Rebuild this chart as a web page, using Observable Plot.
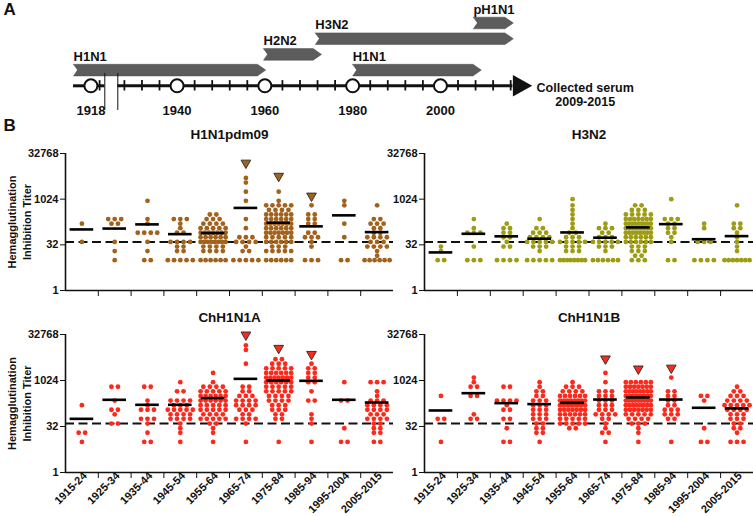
<!DOCTYPE html>
<html><head><meta charset="utf-8">
<script src="https://cdn.jsdelivr.net/npm/d3@7"></script>
<script src="https://cdn.jsdelivr.net/npm/@observablehq/plot@0.6"></script>
<style>
body{margin:0;background:#fff;}
#chart{position:relative;width:753px;height:516px;overflow:hidden;background:#fff;}
</style></head><body><div id="chart"></div>
<script>
const FONT = '"Liberation Sans", Arial, Helvetica, sans-serif';

// ---------- Panel A: timeline ----------
const lineages      = ["H1N1", "H2N2", "H3N2", "H1N1", "pH1N1"];
const lineageStart  = [1914, 1959.7, 1971.5, 1980, 2007.5];
const lineageEnd    = [1960.2, 1972.9, 2016.6, 2009.3, 2016.6];
const lineageTrack  = [1, 2, 3, 1, 4];
const decadeYears   = [1918, 1940, 1960, 1980, 2000];
const tickYears     = [1920, 1928, 1932, 1936, 1944, 1948, 1952, 1956, 1964, 1968, 1972, 1976,
                       1984, 1988, 1992, 1996, 2004, 2008, 2012, 2016];
const breakYears    = [1921.2, 1926.5];
const timelineStart = 1914, timelineEnd = 2016.5, timelineTip = 2020.9;
const serumLabel    = "Collected serum\n2009-2015";

// ---------- Panel B: HI titers ----------
const categories = ["1915-24", "1925-34", "1935-44", "1945-54", "1955-64", "1965-74", "1975-84", "1985-94", "1995-2004", "2005-2015"];
const yTicks = [1, 32, 1024, 32768];
const cutoff = 40;

// each category: [titer, number of sera]
const h1n1pdm09Points = [
  [[160,1],[40,1]],
  [[226,3],[160,2],[40,1],[20,1],[10,1]],
  [[905,1],[226,1],[160,1],[80,4],[40,1],[20,1],[10,2]],
  [[226,3],[160,1],[113,1],[80,2],[40,4],[28,2],[20,2],[10,5]],
  [[320,2],[226,3],[160,4],[113,5],[80,7],[57,6],[40,8],[28,4],[20,4],[10,6]],
  [[5120,1],[3620,1],[1810,1],[905,1],[226,1],[113,1],[57,3],[40,4],[28,1],[20,2],[10,5]],
  [[1810,1],[905,1],[640,5],[453,4],[320,6],[226,6],[160,7],[113,6],[80,7],[57,5],[40,6],[28,3],[20,5],[10,6]],
  [[640,1],[320,2],[226,2],[160,2],[80,2],[57,3],[40,1],[28,1],[10,3]],
  [[905,1],[640,1],[160,1],[57,1],[10,2]],
  [[640,1],[226,2],[160,3],[113,2],[80,2],[57,4],[40,3],[28,4],[20,1],[14,1],[10,6]]
];
const h1n1pdm09Means = [103, 110, 151, 72, 78, 527, 172, 130, 300, 84];
const h1n1pdm09Flags = [null, null, null, null, null, 16000, 5900, 1310, null, null];

const h3n2Points = [
  [[28,1],[20,1],[10,2]],
  [[226,1],[113,1],[80,3],[28,1],[10,3]],
  [[160,1],[113,2],[80,2],[57,2],[40,1],[28,2],[10,4]],
  [[226,1],[113,2],[80,3],[57,4],[40,5],[28,3],[20,1],[10,5]],
  [[1024,1],[640,1],[453,1],[320,1],[226,1],[160,1],[113,1],[80,2],[57,3],[40,5],[28,3],[20,3],[10,8]],
  [[160,1],[113,3],[80,2],[57,3],[40,5],[28,3],[20,1],[10,6]],
  [[640,2],[453,3],[320,5],[226,7],[160,9],[113,9],[80,8],[57,6],[40,6],[28,3],[20,3],[14,2],[10,3]],
  [[1024,1],[226,3],[160,2],[113,2],[80,2],[57,1],[40,1],[10,2]],
  [[160,1],[113,1],[40,3],[10,4]],
  [[640,1],[160,2],[113,2],[80,1],[57,1],[40,1],[28,1],[20,1],[10,7]]
];
const h3n2Means = [18, 74, 61, 51, 82, 55, 120, 154, 49, 62];
const h3n2Flags = [null, null, null, null, null, null, null, null, null, null];

const chH1N1APoints = [
  [[160,1],[20,2],[10,1]],
  [[640,2],[226,1],[113,2],[80,1],[40,2]],
  [[640,2],[226,1],[160,1],[113,3],[57,3],[40,1],[20,1],[10,2]],
  [[905,1],[453,2],[226,4],[160,3],[113,5],[80,4],[57,4],[40,1],[28,1],[20,1],[10,1]],
  [[1810,1],[905,1],[640,4],[453,5],[320,6],[226,6],[160,5],[113,5],[80,4],[57,5],[40,2],[28,1],[20,1],[10,1]],
  [[14480,1],[10240,1],[3620,1],[640,2],[453,2],[320,3],[226,4],[160,4],[113,3],[80,2],[57,4],[40,1],[10,1]],
  [[5120,2],[3620,3],[2560,5],[1810,6],[1280,7],[905,6],[640,5],[453,5],[320,4],[226,4],[160,3],[113,3],[80,2],[57,2],[10,1]],
  [[3620,1],[2560,2],[1810,2],[1280,2],[905,2],[453,1],[226,2],[80,1],[57,1],[40,1],[10,1]],
  [[905,1],[226,2],[28,1],[10,2]],
  [[905,3],[453,1],[320,1],[226,3],[160,4],[113,4],[80,3],[57,4],[40,2],[28,2],[20,2],[10,2]]
];
const chH1N1AMeans = [57, 239, 164, 164, 271, 1160, 1024, 1000, 239, 195];
const chH1N1AFlags = [null, null, null, null, null, 32000, 11700, 7400, null, null];

const chH1N1BPoints = [
  [[320,1],[57,2],[10,1]],
  [[1280,1],[905,1],[640,2],[320,2],[80,1],[57,2]],
  [[640,2],[226,4],[160,1],[113,2],[57,2],[28,1],[10,2]],
  [[905,1],[640,1],[453,2],[320,2],[226,3],[160,3],[113,3],[80,3],[57,3],[40,2],[28,2],[20,2],[10,1]],
  [[905,1],[640,3],[453,4],[320,6],[226,8],[160,8],[113,7],[80,6],[57,5],[40,5],[28,2]],
  [[1810,1],[905,1],[453,3],[320,3],[226,3],[160,3],[113,3],[80,4],[57,2],[40,1],[28,1],[20,2],[10,1]],
  [[905,6],[640,7],[453,8],[320,9],[226,9],[160,8],[113,7],[80,5],[57,4],[40,3],[28,1],[20,1],[10,1]],
  [[1280,1],[453,2],[320,2],[226,2],[160,2],[113,3],[80,3],[57,2],[10,1]],
  [[320,2],[226,1],[28,1],[10,2]],
  [[640,1],[453,2],[320,3],[226,4],[160,5],[113,4],[80,3],[57,3],[40,2],[28,2],[20,1],[10,3]]
];
const chH1N1BMeans = [107, 394, 186, 173, 190, 244, 284, 244, 131, 125];
const chH1N1BFlags = [null, null, null, null, null, 5260, 2470, 2640, null, null];

const panelTitles = ["H1N1pdm09", "H3N2", "ChH1N1A", "ChH1N1B"];
const panelColors = ["#a2621c", "#9e9c14", "#fb2a1c", "#fb2a1c"];
const yTitle = "Hemagglutination\nInhibition Titer";

const chart = document.getElementById("chart");

// ---------- timeline plot ----------
const H = 0.37, TIP = 1.9, NOTCH = 0.9;
const arrowPolys = lineages.flatMap((name, i) => {
  const s = lineageStart[i], e = lineageEnd[i], t = lineageTrack[i];
  return [[s, t + H], [e - TIP, t + H], [e, t], [e - TIP, t - H], [s, t - H], [s + NOTCH, t]]
    .map(([x, y]) => ({id: i, x, y}));
});
const headPoly = [[timelineEnd, 0.68], [timelineTip, 0], [timelineEnd, -0.68]].map(([x, y]) => ({x, y}));

const timeline = Plot.plot({
  width: 753, height: 140,
  marginTop: 0, marginRight: 0, marginBottom: 0, marginLeft: 0,
  style: {position: "absolute", left: "0px", top: "0px", background: "transparent", overflow: "visible",
          fontFamily: FONT, fontWeight: "bold", fontSize: "13px", color: "#111"},
  x: {type: "linear", domain: [1913, breakYears[0], breakYears[1], 2025], range: [68.7, 104.3, 117.3, 549.7], axis: null},
  y: {type: "linear", domain: [0, 4], range: [85.3, 22.5], axis: null},
  marks: [
    Plot.line(arrowPolys, {x: "x", y: "y", z: "id", fill: "#5c5c5c", stroke: "#4a4a4a", strokeWidth: 0.5, curve: "linear-closed"}),
    Plot.text(lineages, {x: (d, i) => lineageStart[i], y: (d, i) => lineageTrack[i], text: d => d,
      textAnchor: "start", lineAnchor: "bottom", dy: -9.5, fontSize: 13, fontWeight: "bold"}),
    Plot.ruleY([0], {x1: timelineStart, x2: breakYears[0], strokeWidth: 3}),
    Plot.ruleY([0], {x1: breakYears[1], x2: timelineEnd, strokeWidth: 3}),
    Plot.ruleX(tickYears, {y1: -0.33, y2: 0.33, strokeWidth: 1.8}),
    Plot.line(headPoly, {x: "x", y: "y", fill: "#111", stroke: "none", curve: "linear-closed"}),
    Plot.ruleX(breakYears, {y1: 0.78, y2: -1.57, strokeWidth: 1}),
    Plot.dot(decadeYears, {x: d => d, y: 0, r: 6.5, fill: "white", stroke: "#111", strokeWidth: 2}),
    Plot.text(decadeYears, {x: d => d, y: 0, dy: 25, text: d => String(d), fontSize: 13, fontWeight: "bold"}),
    Plot.text([serumLabel], {x: timelineTip, y: 0, dx: 53, dy: 9, textAnchor: "middle", lineHeight: 1.12, fontSize: 12.5, fontWeight: "bold"}),
    Plot.text(["A"], {frameAnchor: "top-left", dx: 3, dy: 2, lineAnchor: "top", textAnchor: "start", fontSize: 17, fontWeight: "bold"}),
    Plot.text(["B"], {frameAnchor: "top-left", dx: 3, dy: 118, lineAnchor: "top", textAnchor: "start", fontSize: 17, fontWeight: "bold"})
  ]
});
chart.appendChild(timeline);

// ---------- panel plots ----------
function panel(title, color, points, means, flags, isBottom, isRight) {
  const top = isBottom ? 300 : 110;
  const mt = isBottom ? 34 : 43;
  const mb = isBottom ? 44 : 10;
  const h = isBottom ? 216 : 190;
  const left = isRight ? 370 : 0;
  const w = isRight ? 383 : 393;
  const ml = isRight ? 54 : 65;
  const bw = (w - ml) / categories.length;
  const dots = [];
  points.forEach((groups, ci) => {
    groups.forEach(([v, n]) => {
      const sp = n > 1 ? Math.min(6.5, 25 / (n - 1)) : 0;
      for (let k = 0; k < n; k++) dots.push({ci, v, off: (k - (n - 1) / 2) * sp});
    });
  });
  const meanData = means.map((m, i) => ({i, m}));
  const flagData = flags.map((f, i) => ({i, f})).filter(d => d.f != null);
  const marks = [
    Plot.ruleY([cutoff], {strokeDasharray: "9,4.5", strokeWidth: 2, stroke: "#111"}),
    Plot.dot(dots, {x: d => d.ci + 0.5 + d.off / bw, y: "v", r: 2.4, fill: color, stroke: "none"}),
    Plot.ruleY(meanData, {y: "m", x1: d => d.i + 0.5 - 0.36, x2: d => d.i + 0.5 + 0.36, strokeWidth: 2.6, stroke: "#000"}),
    Plot.dot(flagData, {x: d => d.i + 0.5, y: "f", symbol: "triangle", rotate: 180, r: 3.6, fill: color, stroke: "#333", strokeWidth: 1}),
    Plot.ruleX([0], {y1: 1, y2: 32768, strokeWidth: 1.6, stroke: "#111"}),
    Plot.ruleY([1], {strokeWidth: 1.6, stroke: "#111"}),
    Plot.axisY({ticks: yTicks, tickFormat: d => String(d), tickSize: 5, tickPadding: 2, label: null, fontSize: 11, fontWeight: "bold"}),
    Plot.axisX({ticks: d3.range(1, categories.length), tickSize: 6, tickFormat: () => "", label: null}),
    Plot.text([title], {frameAnchor: "top", dy: isBottom ? -16.5 : -19, lineAnchor: "middle", textAnchor: "middle",
      fontSize: 13.5, fontWeight: "bold"})
  ];
  if (isBottom) marks.push(Plot.text(categories, {x: (d, i) => i + 0.5, y: 1, dx: 5.6, dy: 4, rotate: -45,
      textAnchor: "end", lineAnchor: "bottom", fontSize: 11, fontWeight: "bold"}));
  if (!isRight) marks.push(Plot.text([yTitle], {frameAnchor: "left", dx: -47, rotate: -90, lineHeight: 1.4,
      textAnchor: "middle", lineAnchor: "middle", fontSize: 11, fontWeight: "bold"}));
  return Plot.plot({
    width: w, height: h, marginLeft: ml, marginRight: 0, marginTop: mt, marginBottom: mb,
    style: {position: "absolute", left: left + "px", top: top + "px", background: "transparent", overflow: "visible",
            fontFamily: FONT, fontWeight: "bold", fontSize: "11px", color: "#111", maxWidth: "none"},
    x: {type: "linear", domain: [0, categories.length], axis: null},
    y: {type: "log", base: 2, domain: [1, 32768], axis: null},
    marks
  });
}

chart.appendChild(panel(panelTitles[0], panelColors[0], h1n1pdm09Points, h1n1pdm09Means, h1n1pdm09Flags, false, false));
chart.appendChild(panel(panelTitles[1], panelColors[1], h3n2Points, h3n2Means, h3n2Flags, false, true));
chart.appendChild(panel(panelTitles[2], panelColors[2], chH1N1APoints, chH1N1AMeans, chH1N1AFlags, true, false));
chart.appendChild(panel(panelTitles[3], panelColors[3], chH1N1BPoints, chH1N1BMeans, chH1N1BFlags, true, true));
</script></body></html>
